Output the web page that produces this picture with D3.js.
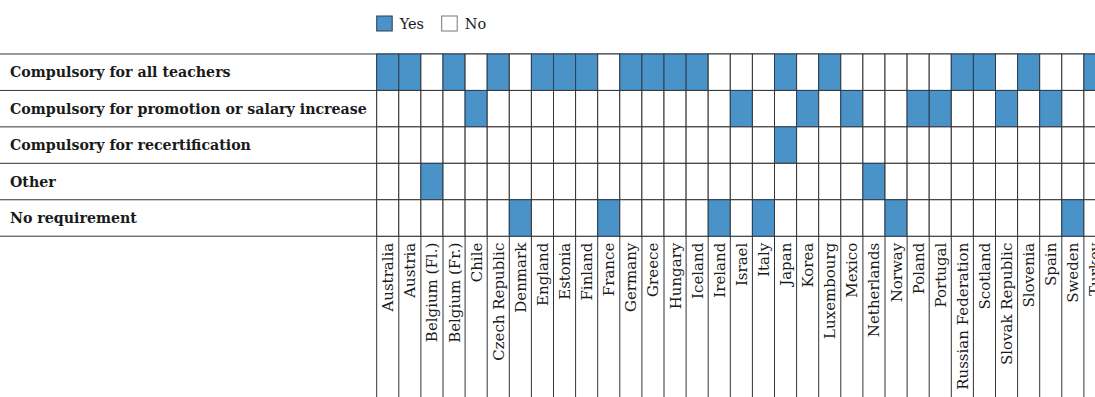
<!DOCTYPE html>
<html><head><meta charset="utf-8">
<script src="https://cdn.jsdelivr.net/npm/d3@7"></script>
<style>body{margin:0;background:#fff}svg{display:block}</style>
</head><body>
<script>
const countries = ["Australia","Austria","Belgium (Fl.)","Belgium (Fr.)","Chile","Czech Republic","Denmark","England","Estonia","Finland","France","Germany","Greece","Hungary","Iceland","Ireland","Israel","Italy","Japan","Korea","Luxembourg","Mexico","Netherlands","Norway","Poland","Portugal","Russian Federation","Scotland","Slovak Republic","Slovenia","Spain","Sweden","Turkey"];
const categories = ["Compulsory for all teachers","Compulsory for promotion or salary increase","Compulsory for recertification","Other","No requirement"];
const yesAllTeachers = ["Australia","Austria","Belgium (Fr.)","Czech Republic","England","Estonia","Finland","Germany","Greece","Hungary","Iceland","Japan","Luxembourg","Russian Federation","Scotland","Slovenia","Turkey"];
const yesPromotion = ["Chile","Israel","Korea","Mexico","Poland","Portugal","Slovak Republic","Spain"];
const yesRecertification = ["Japan"];
const yesOther = ["Belgium (Fl.)","Netherlands"];
const yesNoRequirement = ["Denmark","France","Ireland","Italy","Norway","Sweden"];
const legendLabels = ["Yes","No"];

const yesSets = [yesAllTeachers, yesPromotion, yesRecertification, yesOther, yesNoRequirement];
const W = 1095, H = 397;
const blue = "#4a93c8", lineC = "#333";
const svg = d3.select("body").append("svg").attr("width", W).attr("height", H);

const gx0 = 376.7, cw = 22.1;
const x = d3.scaleBand().domain(countries).range([gx0, gx0 + cw*countries.length]);
const y = d3.scaleBand().domain(categories).range([54, 236.2]);

const cells = [];
categories.forEach((c, i) => countries.forEach(k => cells.push({c, k, yes: yesSets[i].includes(k)})));

const rowEdges = categories.map(c => y(c)).concat([y.range()[1]]);
svg.selectAll("line.h").data(rowEdges).join("line")
  .attr("x1", 0).attr("x2", W).attr("y1", d => d).attr("y2", d => d)
  .attr("stroke", lineC).attr("stroke-width", 1);

const colEdges = countries.map(k => x(k)).concat([x.range()[1]]);
svg.selectAll("line.v").data(colEdges).join("line")
  .attr("x1", d => d).attr("x2", d => d).attr("y1", y.range()[0]).attr("y2", H)
  .attr("stroke", lineC).attr("stroke-width", 1);

svg.selectAll("rect.cell").data(cells).join("rect")
  .attr("x", d => x(d.k)).attr("y", d => y(d.c))
  .attr("width", x.bandwidth()).attr("height", y.bandwidth())
  .attr("fill", d => d.yes ? blue : "#fff")
  .attr("stroke", d => d.yes ? "#2a3f55" : lineC).attr("stroke-width", 1);

svg.selectAll("text.row").data(categories).join("text")
  .attr("x", 10).attr("y", d => y(d) + y.bandwidth()/2).attr("dy", "0.35em")
  .attr("font-family", "DejaVu Serif").attr("font-weight", "bold").attr("font-size", 14.2)
  .attr("fill", "#1a1a1a").text(d => d);

svg.selectAll("text.col").data(countries).join("text")
  .attr("transform", d => `translate(${x(d) + x.bandwidth()/2 + 5.5},${y.range()[1] + 6.5}) rotate(-90)`)
  .attr("text-anchor", "end")
  .attr("font-family", "DejaVu Serif").attr("font-size", 15)
  .attr("fill", "#1a1a1a").text(d => d);

const lg = svg.append("g");
const lx = [376.7, 441.7];
lg.selectAll("rect").data(legendLabels).join("rect")
  .attr("x", (d, i) => lx[i]).attr("y", 16).attr("width", 15.5).attr("height", 15)
  .attr("fill", (d, i) => i === 0 ? blue : "#fff")
  .attr("stroke", (d, i) => i === 0 ? "#2a3f55" : "#777").attr("stroke-width", 1);
lg.selectAll("text").data(legendLabels).join("text")
  .attr("x", (d, i) => lx[i] + 23).attr("y", 24).attr("dy", "0.35em")
  .attr("font-family", "DejaVu Serif").attr("font-size", 14.5)
  .attr("fill", "#1a1a1a").text(d => d);
</script>
</body></html>
